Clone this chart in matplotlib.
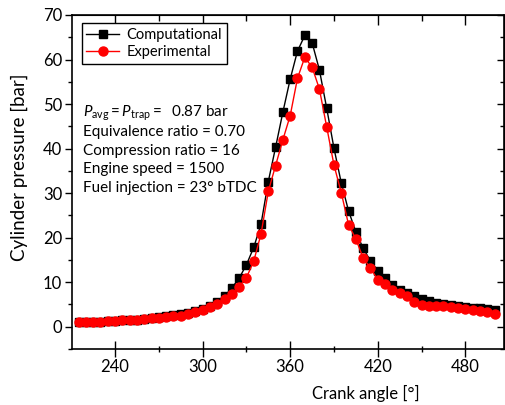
import matplotlib
matplotlib.use("Agg")
import matplotlib.pyplot as plt
from matplotlib.ticker import MultipleLocator

plt.rcParams['font.family'] = ['Lato', 'DejaVu Sans']
plt.rcParams['mathtext.fontset'] = 'custom'
plt.rcParams['mathtext.rm'] = 'Lato'
plt.rcParams['mathtext.it'] = 'Lato:italic'

# crank angle every 5 degrees
crank = list(range(215, 505, 5))

computational = [1.0, 1.05, 1.1, 1.15, 1.2, 1.3, 1.4, 1.5, 1.6, 1.75, 1.9, 2.1,
                 2.3, 2.55, 2.8, 3.1, 3.5, 4.0, 4.6, 5.5, 6.8, 8.7, 10.9, 13.9,
                 17.8, 23.0, 32.6, 40.3, 48.2, 55.6, 61.9, 65.4, 63.8, 57.7, 49.1,
                 40.1, 32.3, 26.0, 21.3, 17.6, 14.8, 12.6, 10.9, 9.4, 8.2, 7.5,
                 6.8, 6.2, 5.7, 5.3, 5.0, 4.8, 4.6, 4.4, 4.2, 4.1, 3.9, 3.8]

experimental = [1.0, 1.05, 1.1, 1.15, 1.2, 1.3, 1.4, 1.5, 1.6, 1.75, 1.9, 2.05,
                2.2, 2.35, 2.5, 2.8, 3.2, 3.8, 4.4, 5.2, 6.3, 7.4, 9.0, 11.0,
                14.7, 20.8, 30.4, 36.2, 42.0, 47.4, 55.8, 60.5, 58.3, 53.4, 44.9,
                36.3, 30.1, 22.9, 19.7, 15.4, 13.2, 10.5, 9.6, 8.3, 7.6, 7.0,
                5.5, 4.8, 4.7, 4.6, 4.6, 4.4, 4.2, 4.0, 3.7, 3.6, 3.3, 2.9]

info_lines = [r"$P_{\rm avg} = P_{\rm trap} =$  0.87 bar",
              "Equivalence ratio = 0.70",
              "Compression ratio = 16",
              "Engine speed = 1500",
              "Fuel injection = 23\u00b0 bTDC"]

fig = plt.figure(figsize=(5.05, 4.05), dpi=100)
ax = fig.add_axes([72/505, 1-349/405, 432/505, 334/405])

ax.plot(crank, computational, 'k-', marker='s', markersize=5.5, lw=1,
        label='Computational')
ax.plot(crank, experimental, 'r-', marker='o', markersize=6.5, lw=1,
        label='Experimental')

ax.set_xlim(210.5, 506.5)
ax.set_ylim(-5, 70)
ax.xaxis.set_major_locator(MultipleLocator(60))
ax.xaxis.set_minor_locator(MultipleLocator(30))
ax.yaxis.set_major_locator(MultipleLocator(10))
ax.yaxis.set_minor_locator(MultipleLocator(5))

ax.tick_params(axis='x', which='major', direction='inout', length=11, width=1,
               labelsize=12, pad=2)
ax.tick_params(axis='x', which='minor', direction='inout', length=5, width=1)
ax.tick_params(axis='y', which='major', direction='out', length=5, width=1,
               labelsize=12, pad=2)
ax.tick_params(axis='y', which='minor', direction='out', length=3, width=1)

top = ax.secondary_xaxis('top')
top.xaxis.set_major_locator(MultipleLocator(60))
top.xaxis.set_minor_locator(MultipleLocator(30))
top.tick_params(which='major', direction='in', length=7, width=1, labeltop=False)
top.tick_params(which='minor', direction='in', length=4, width=1)

right = ax.secondary_yaxis('right')
right.yaxis.set_major_locator(MultipleLocator(10))
right.yaxis.set_minor_locator(MultipleLocator(5))
right.tick_params(which='major', direction='in', length=5, width=1, labelright=False)
right.tick_params(which='minor', direction='in', length=3, width=1)

for s in ax.spines.values():
    s.set_linewidth(1.2)

ax.set_xlabel("Crank angle [\u00b0]", fontsize=12)
ax.xaxis.set_label_coords(0.68, -0.108)
ax.set_ylabel("Cylinder pressure [bar]", fontsize=13.5)
ax.yaxis.set_label_coords(-0.102, 0.545)

leg = ax.legend(loc='upper left', bbox_to_anchor=(0.022, 0.975), fontsize=10.5,
                fancybox=False, edgecolor='black', framealpha=1,
                handlelength=2.3, borderpad=0.3, labelspacing=0.25,
                handletextpad=0.5, borderaxespad=0)
leg.get_frame().set_linewidth(1)

for i, line in enumerate(info_lines):
    ax.text(0.026, 0.705 - i*0.0555, line, transform=ax.transAxes,
            fontsize=11, va='center', ha='left')

fig.savefig("out.png", dpi=100)
